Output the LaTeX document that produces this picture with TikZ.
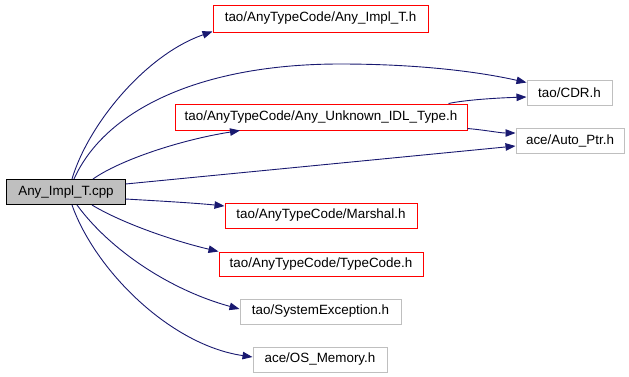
\documentclass[tikz,border=0pt]{standalone}
\usepackage{fontspec}
\setmainfont{Liberation Sans}
\usetikzlibrary{arrows.meta}
\definecolor{edgeblue}{RGB}{25,25,112}
\definecolor{boxgray}{RGB}{191,191,191}
\begin{document}
\begin{tikzpicture}[x=1bp,y=-1bp,
  every node/.style={font=\fontsize{13.4bp}{15bp}\selectfont, inner sep=0pt, line width=1bp},
  redbox/.style={draw=red, fill=white},
  graybox/.style={draw=boxgray, fill=white},
  mainbox/.style={draw=black, fill=boxgray},
  edge/.style={draw=edgeblue, line width=0.9bp, -{Triangle[length=10bp,width=7.5bp]}}]
\useasboundingbox (0,0) rectangle (629,376);
\node[mainbox, minimum width=118bp, minimum height=25bp] (main) at (66,192) {Any\_Impl\_T.cpp};
\node[redbox, minimum width=215bp, minimum height=27bp] (impl) at (320.5,18.5) {tao/AnyTypeCode/Any\_Impl\_T.h};
\node[redbox, minimum width=292bp, minimum height=26bp] (unknown) at (321,117) {tao/AnyTypeCode/Any\_Unknown\_IDL\_Type.h};
\node[graybox, minimum width=85bp, minimum height=25bp] (cdr) at (569.5,92.5) {tao/CDR.h};
\node[graybox, minimum width=108bp, minimum height=25bp] (autoptr) at (570,140.5) {ace/Auto\_Ptr.h};
\node[redbox, minimum width=192bp, minimum height=25bp] (marshal) at (321,215.5) {tao/AnyTypeCode/Marshal.h};
\node[redbox, minimum width=204bp, minimum height=24bp] (typecode) at (321,264) {tao/AnyTypeCode/TypeCode.h};
\node[graybox, minimum width=161bp, minimum height=25bp] (sysexc) at (320.5,311.5) {tao/SystemException.h};
\node[graybox, minimum width=134bp, minimum height=25bp] (osmem) at (320,359.5) {ace/OS\_Memory.h};

\draw[edge] ([xshift=6bp]main.north) .. controls (88,125) and (145,55) .. ([yshift=1bp]impl.south west);
\draw[edge] ([xshift=8bp]main.north) .. controls (105,110) and (200,64) .. (340,64) .. controls (420,64) and (480,72) .. ([yshift=10bp]cdr.west);
\draw[edge] ([xshift=27bp]main.north) .. controls (120,160) and (180,140) .. ([xshift=-81bp]unknown.south);
\draw[edge] ([yshift=8bp]main.east) -- ([yshift=-5.5bp]autoptr.west);
\draw[edge] ([yshift=-7bp]main.east) .. controls (160,201) and (195,203) .. ([yshift=9.5bp]marshal.west);
\draw[edge] ([xshift=26bp]main.south) .. controls (120,222) and (170,240) .. (typecode.north west);
\draw[edge] ([xshift=11bp]main.south) .. controls (110,250) and (170,290) .. ([yshift=2.5bp]sysexc.west);
\draw[edge] ([xshift=6bp]main.south) .. controls (95,270) and (170,345) .. ([yshift=2.5bp]osmem.west);
\draw[edge] ([xshift=-19bp]unknown.north east) .. controls (465,100) and (495,98) .. ([yshift=-4.5bp]cdr.west);
\draw[edge] ([yshift=2bp]unknown.south east) .. controls (485,130) and (500,133) .. ([yshift=7.5bp]autoptr.west);
\end{tikzpicture}
\end{document}
